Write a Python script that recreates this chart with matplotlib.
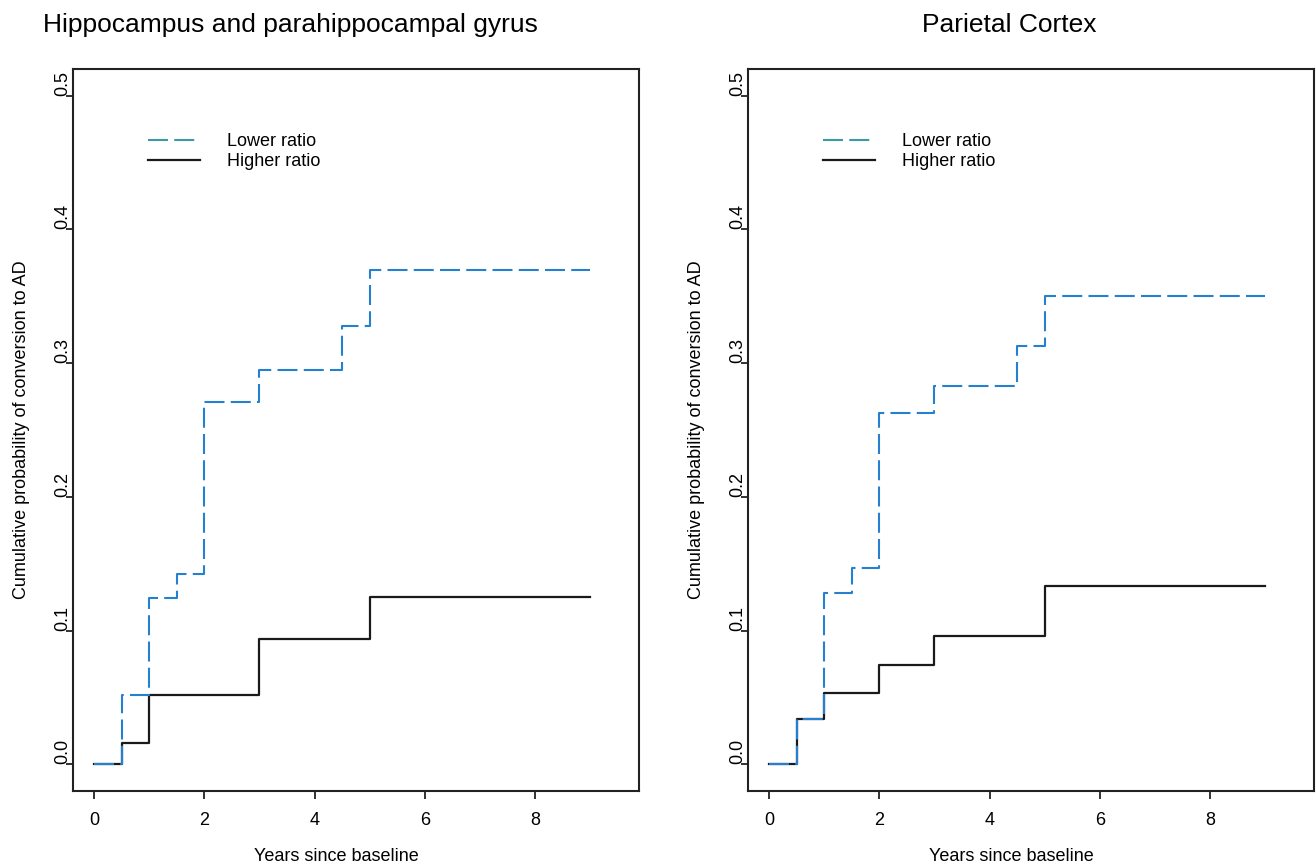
import matplotlib
matplotlib.use("Agg")
import matplotlib.pyplot as plt
from matplotlib.lines import Line2D

plt.rcParams["font.family"] = ["Liberation Sans", "DejaVu Sans"]

# Hippocampus and parahippocampal gyrus
hippo_years_low = [0, 0.5, 1, 1.5, 2, 3, 4.5, 5, 9]
hippo_lower = [0, 0.052, 0.124, 0.142, 0.271, 0.295, 0.328, 0.370, 0.370]
hippo_years_high = [0, 0.5, 1, 3, 5, 9]
hippo_higher = [0, 0.016, 0.052, 0.094, 0.125, 0.125]

# Parietal cortex
par_years_low = [0, 0.5, 1, 1.5, 2, 3, 4.5, 5, 9]
par_lower = [0, 0.034, 0.128, 0.147, 0.263, 0.283, 0.313, 0.350, 0.350]
par_years_high = [0, 0.5, 1, 2, 3, 5, 9]
par_higher = [0, 0.034, 0.053, 0.074, 0.096, 0.133, 0.133]

titles = ["Hippocampus and parahippocampal gyrus", "Parietal Cortex"]
series_labels = ["Lower ratio", "Higher ratio"]
x_ticks = [0, 2, 4, 6, 8]
y_ticks = [0.0, 0.1, 0.2, 0.3, 0.4, 0.5]
y_tick_labels = ["0.0", "0.1", "0.2", "0.3", "0.4", "0.5"]
xlabel = "Years since baseline"
ylabel = "Cumulative probability of conversion to AD"

W, H = 1316, 865
BLUE = "#2580cf"
TEAL = "#3c9aa8"
DASH = (0, (9.6, 3.0))

fig = plt.figure(figsize=(W / 100, H / 100), dpi=100)

panels = [
    (73, hippo_years_low, hippo_lower, hippo_years_high, hippo_higher, 290),
    (748, par_years_low, par_lower, par_years_high, par_higher, 1009),
]

for i, (left_px, xl, yl, xh, yh, title_x) in enumerate(panels):
    ax = fig.add_axes([left_px / W, 1 - 791 / H, 566 / W, 722 / H])
    ax.step(xh, yh, where="post", color="#1a1a1a", lw=1.6)
    ax.step(xl, yl, where="post", color=BLUE, lw=1.5, linestyle=DASH)

    ax.set_xlim(-0.38, 9.88)
    ax.set_ylim(-0.02, 0.52)
    ax.set_xticks(x_ticks)
    ax.set_yticks(y_ticks, labels=y_tick_labels, rotation=90, va="bottom")
    ax.tick_params(axis="x", direction="out", length=6, width=1.3, pad=9,
                   labelsize=13, color="#222222")
    ax.tick_params(axis="y", direction="out", length=5, width=1.3, pad=-4,
                   labelsize=13, color="#222222")
    for sp in ax.spines.values():
        sp.set_linewidth(1.5)
        sp.set_color("#222222")

    ax.set_xlabel(xlabel, fontsize=13, labelpad=14, x=0.466)
    ax.set_ylabel(ylabel, fontsize=13, labelpad=18)

    handles = [
        Line2D([], [], color=TEAL, lw=1.5, linestyle=DASH),
        Line2D([], [], color="#1a1a1a", lw=1.6),
    ]
    ax.legend(handles, series_labels, loc="upper left",
              bbox_to_anchor=(0.1325, 0.911), frameon=False, fontsize=13,
              handlelength=2.9, handletextpad=1.5, labelspacing=0.15,
              borderpad=0, borderaxespad=0)

    fig.text(title_x / W, 1 - 25 / H, titles[i], ha="center", va="center",
             fontsize=19)

fig.savefig("out.png", dpi=100)
